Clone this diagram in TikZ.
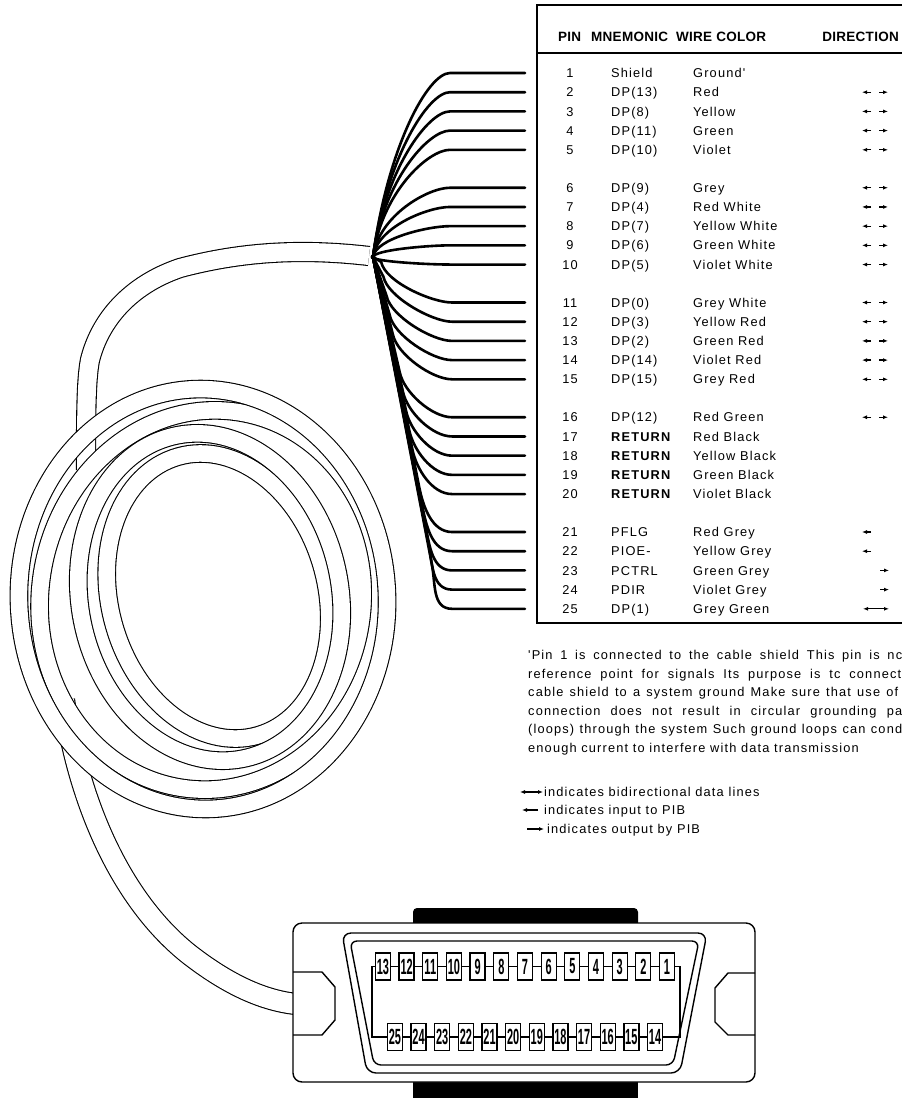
\documentclass[tikz,border=0pt]{standalone}
\usepackage{fontspec}
\usepackage{graphicx}
\setmainfont{Liberation Sans}
\newfontfamily\plainsans[LetterSpace=9]{Liberation Sans}
\newfontfamily\headsans[LetterSpace=2]{Liberation Sans}
\usetikzlibrary{arrows.meta}

\newcommand\pinlabel[1]{\scalebox{0.5}[1]{\fontsize{22}{22}\selectfont\bfseries #1}}

\tikzset{
  wire/.style={line width=2.6pt, line cap=round},
  tube/.style={line width=1.1pt, double=white, double distance=16.5pt},
  body/.style={line width=1.4pt},
  txt/.style={anchor=base west, inner sep=0pt, font=\plainsans\fontsize{12.8}{15}\selectfont},
  hdr/.style={anchor=base west, inner sep=0pt, font=\headsans\bfseries\fontsize{13.5}{16}\selectfont},
  pinbox/.style={draw, fill=white, line width=1.3pt, minimum width=15pt, minimum height=27pt, inner sep=0pt},
  tip/.style={-{Latex[length=5pt,width=4pt]}, line width=1.3pt},
  both/.style={{Latex[length=5pt,width=4pt]}-{Latex[length=5pt,width=4pt]}, line width=1.3pt},
}

\begin{document}
\begin{tikzpicture}[x=1pt,y=-1pt]
\useasboundingbox (0,0) rectangle (902,1098);

% ---------------- cable ----------------
\coordinate (hub) at (373,257);
% upper run from the coil to the breakout
\draw[tube, double distance=18pt] (369,256) .. controls (300,248) and (240,252) .. (180,268)
   .. controls (130,285) and (100,320) .. (90,360) .. controls (86,380) and (86,420) .. (86,470);
% lower run from the coil to the connector
\draw[tube, double distance=20pt] (64,700) .. controls (78,800) and (120,900) .. (190,955)
   .. controls (225,982) and (260,1000) .. (296,1004);

% coil loops
\draw[tube, rotate around={16:(218,596)}] (218,596) ellipse [x radius=108, y radius=145];
\draw[tube, rotate around={-8:(210,600)}] (210,600) ellipse [x radius=170, y radius=190];
\draw[tube, rotate around={12:(210,597)}] (210,597) ellipse [x radius=130, y radius=165];
\draw[tube, rotate around={3:(203,599)}] (203,599) ellipse [x radius=184, y radius=210];

% ---------------- table ----------------
\draw[line width=2.6pt] (902,5) -- (537,5) -- (537,623) -- (902,623);
\draw[line width=2.4pt] (537,53) -- (902,53);
\node[hdr] (hpin) at (558,41) {PIN};
\node[hdr] (hmn) at (591,41) {MNEMONIC};
\node[hdr] (hwc) at (676,41) {WIRE COLOR};
\node[hdr, anchor=base east] (hdir) at (899,41) {DIRECTION};

\foreach \n/\mn/\wc/\dr in {
 1/Shield/Ground'/n, 2/DP(13)/Red/b, 3/DP(8)/Yellow/b, 4/DP(11)/Green/b, 5/DP(10)/Violet/b,
 6/DP(9)/Grey/b, 7/DP(4)/Red White/b, 8/DP(7)/Yellow White/b, 9/DP(6)/Green White/b, 10/DP(5)/Violet White/b,
 11/DP(0)/Grey White/b, 12/DP(3)/Yellow Red/b, 13/DP(2)/Green Red/b, 14/DP(14)/Violet Red/b, 15/DP(15)/Grey Red/b,
 16/DP(12)/Red Green/b, 17/{\textbf{RETURN}}/Red Black/n, 18/{\textbf{RETURN}}/Yellow Black/n,
 19/{\textbf{RETURN}}/Green Black/n, 20/{\textbf{RETURN}}/Violet Black/n,
 21/PFLG/Red Grey/i, 22/PIOE-/Yellow Grey/i, 23/PCTRL/Green Grey/o, 24/PDIR/Violet Grey/o, 25/DP(1)/Grey Green/d}
{
 \pgfmathsetmacro\ry{73 + floor((\n-1)/5)*114.75 + mod(\n-1,5)*19.2}
 \pgfmathsetmacro\by{\ry+4.6}
 \node[txt, anchor=base] (pin\n) at (570,\by) {\n};
 \node[txt] (mn\n) at (611,\by) {\mn};
 \node[txt] (wc\n) at (693,\by) {\wc};
 \coordinate (w\n) at (525,\ry);
 \if\dr b
   \draw[tip] (871,\ry) -- (862,\ry);
   \draw[tip] (879,\ry) -- (888,\ry);
 \fi
 \if\dr i \draw[tip] (871,\ry) -- (862,\ry); \fi
 \if\dr o \draw[tip] (880,\ry) -- (889,\ry); \fi
 \if\dr d \draw[both] (863,\ry) -- (889,\ry); \fi
 % breakout wire from the cable end to the pin row
 \ifnum\n<11
   \pgfmathsetmacro\dy{257-\ry}
   \pgfmathsetmacro\cax{373+0.08*\dy}
   \pgfmathsetmacro\cay{257-0.6*\dy}
   \draw[wire] (hub) .. controls (\cax,\cay) and (428,\ry) .. (450,\ry) -- (w\n);
 \else
   \pgfmathsetmacro\yb{max(262,\ry-45)}
   \pgfmathsetmacro\bx{371+0.2*(\yb-260)+(25-\n)*0.7}
   \pgfmathsetmacro\bcx{\bx+4}
   \pgfmathsetmacro\bcy{\yb+20}
   \draw[wire] (hub) -- (\bx,\yb) .. controls (\bcx,\bcy) and (432,\ry) .. (452,\ry) -- (w\n);
 \fi
}

% ---------------- footnote and legend ----------------
\node[txt] (fn1) at (528,659.6) {\makebox[374pt][s]{'Pin 1 is connected to the cable shield This pin is nc}};
\node[txt] (fn2) at (528,678.1) {\makebox[373pt][s]{reference point for signals Its purpose is tc connect}};
\node[txt] (fn3) at (528,696.6) {\makebox[370pt][s]{cable shield to a system ground Make sure that use of}};
\node[txt] (fn4) at (528,715.6) {\makebox[374pt][s]{connection does not result in circular grounding pa}};
\node[txt] (fn5) at (528,733.6) {\makebox[374pt][s]{(loops) through the system Such ground loops can cond}};
\node[txt] (fn6) at (528,752.6) {enough current to interfere with data transmission};

\node[txt] (lg1) at (544,796.6) {indicates bidirectional data lines};
\node[txt] (lg2) at (544,814.6) {indicates input to PIB};
\node[txt] (lg3) at (547,833.6) {indicates output by PIB};
\draw[both] (520,792) -- (543,792);
\draw[tip] (538,810) -- (522,810);
\draw[tip] (527,829) -- (544,829);

% ---------------- connector ----------------
\fill[rounded corners=4pt] (413,932) -- (413,908) -- (638,908) -- (638,932) -- cycle;
\fill (413,1075) rectangle (638,1098);
\draw[body, fill=white, rounded corners=9pt] (293,923) rectangle (755,1082);
\draw[body] (293,972) -- (322,972) -- (335,987) -- (335,1020) -- (322,1035) -- (293,1035);
\draw[body] (755,973) -- (728,973) -- (715,988) -- (715,1022) -- (728,1035) -- (755,1035);
\draw[body, rounded corners=9pt] (342,933) -- (707,933) -- (680,1073) -- (367,1073) -- cycle;
\draw[body, rounded corners=7pt] (350,941) -- (699,941) -- (673,1065) -- (374,1065) -- cycle;
\draw[line width=1.2pt] (372,966.5) rectangle (680,1037);
\foreach \k in {1,...,13}
  \node[pinbox] (p\k) at ({667-(\k-1)*23.67},966.5) {\pinlabel{\k}};
\foreach \k in {14,...,25}
  \node[pinbox] (p\k) at ({655-(\k-14)*23.64},1037) {\pinlabel{\k}};

% ---------------- breakout hub ----------------
\fill (hub) circle (2.5pt);
\end{tikzpicture}
\end{document}
